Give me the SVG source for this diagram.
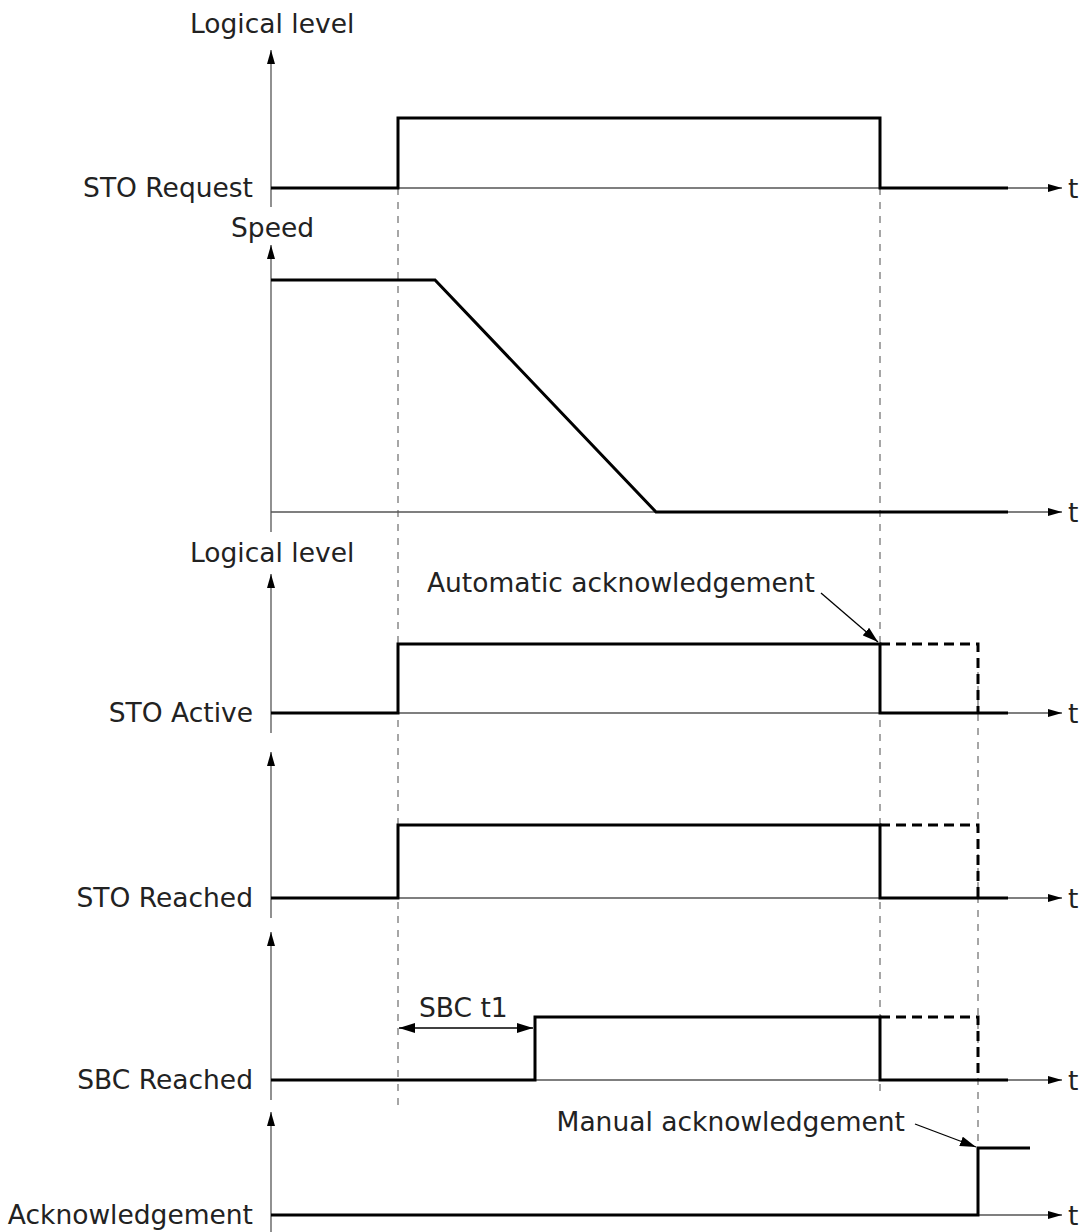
<svg xmlns="http://www.w3.org/2000/svg" width="1084" height="1232" viewBox="0 0 1084 1232">
<defs>
<marker id="ah" markerWidth="14" markerHeight="8" refX="14" refY="4" orient="auto" markerUnits="userSpaceOnUse">
<path d="M0,0 L14,4 L0,8 Z" fill="#000"/>
</marker>
<marker id="ahb" markerWidth="16" markerHeight="10" refX="16" refY="5" orient="auto" markerUnits="userSpaceOnUse">
<path d="M0,0 L16,5 L0,10 Z" fill="#000"/>
</marker>
<marker id="ahs" markerWidth="16" markerHeight="10" refX="16" refY="5" orient="auto-start-reverse" markerUnits="userSpaceOnUse">
<path d="M0,0 L16,5 L0,10 Z" fill="#000"/>
</marker>
<style>
text{font-family:"DejaVu Sans","Liberation Sans",sans-serif;font-size:26.5px;fill:#222}
.axis{stroke:#555;stroke-width:1.3;fill:none}
.sig{stroke:#000;stroke-width:3;fill:none}
.sigd{stroke:#000;stroke-width:3;fill:none;stroke-dasharray:10,6}
.guide{stroke:#777;stroke-width:1.3;fill:none;stroke-dasharray:7,7}
.ann{stroke:#000;stroke-width:1.3;fill:none}
.lbl{text-anchor:end}
</style>
</defs>

<g id="connectors">
<line class="guide" x1="398" y1="188" x2="398" y2="1108"/>
<line class="guide" x1="880" y1="188" x2="880" y2="1092"/>
<line class="guide" x1="978" y1="644" x2="978" y2="1148"/>
<line class="ann" x1="821" y1="593" x2="878" y2="642" marker-end="url(#ahb)"/>
<line class="ann" x1="915" y1="1124" x2="976" y2="1147" marker-end="url(#ahb)"/>
<line class="ann" x1="399" y1="1028" x2="533" y2="1028" marker-start="url(#ahs)" marker-end="url(#ahb)"/>
</g>

<g id="panel-sto-request">
<line class="axis" x1="271" y1="207" x2="271" y2="50" marker-end="url(#ah)"/>
<line class="axis" x1="271" y1="188" x2="1062" y2="188" marker-end="url(#ah)"/>
<path class="sig" d="M271,188 H398 V118 H880 V188 H1008"/>
<text x="190" y="33">Logical level</text>
<text class="lbl" x="253" y="197">STO Request</text>
<text x="1068" y="198">t</text>
</g>

<g id="panel-speed">
<line class="axis" x1="271" y1="532" x2="271" y2="245" marker-end="url(#ah)"/>
<line class="axis" x1="271" y1="512" x2="1062" y2="512" marker-end="url(#ah)"/>
<path class="sig" d="M271,280 H435 L656,512 H1008"/>
<text x="231" y="237">Speed</text>
<text x="1068" y="522">t</text>
</g>

<g id="panel-sto-active">
<line class="axis" x1="271" y1="733" x2="271" y2="574" marker-end="url(#ah)"/>
<line class="axis" x1="271" y1="713" x2="1062" y2="713" marker-end="url(#ah)"/>
<path class="sig" d="M271,713 H398 V644 H880 V713 H1008"/>
<path class="sigd" d="M880,644 H978 V713"/>
<text x="190" y="562">Logical level</text>
<text class="lbl" x="815" y="592">Automatic acknowledgement</text>
<text class="lbl" x="253" y="722">STO Active</text>
<text x="1068" y="723">t</text>
</g>

<g id="panel-sto-reached">
<line class="axis" x1="271" y1="918" x2="271" y2="752" marker-end="url(#ah)"/>
<line class="axis" x1="271" y1="898" x2="1062" y2="898" marker-end="url(#ah)"/>
<path class="sig" d="M271,898 H398 V825 H880 V898 H1008"/>
<path class="sigd" d="M880,825 H978 V898"/>
<text class="lbl" x="253" y="907">STO Reached</text>
<text x="1068" y="908">t</text>
</g>

<g id="panel-sbc-reached">
<line class="axis" x1="271" y1="1100" x2="271" y2="932" marker-end="url(#ah)"/>
<line class="axis" x1="271" y1="1080" x2="1062" y2="1080" marker-end="url(#ah)"/>
<path class="sig" d="M271,1080 H535 V1017 H880 V1080 H1008"/>
<path class="sigd" d="M880,1017 H978 V1080"/>
<text x="419" y="1017">SBC t1</text>
<text class="lbl" x="253" y="1089">SBC Reached</text>
<text x="1068" y="1090">t</text>
</g>

<g id="panel-acknowledgement">
<line class="axis" x1="271" y1="1232" x2="271" y2="1112" marker-end="url(#ah)"/>
<line class="axis" x1="271" y1="1215" x2="1062" y2="1215" marker-end="url(#ah)"/>
<path class="sig" d="M271,1215 H978 V1148 H1030"/>
<text class="lbl" x="905" y="1131">Manual acknowledgement</text>
<text class="lbl" x="253" y="1224">Acknowledgement</text>
<text x="1068" y="1225">t</text>
</g>
</svg>
